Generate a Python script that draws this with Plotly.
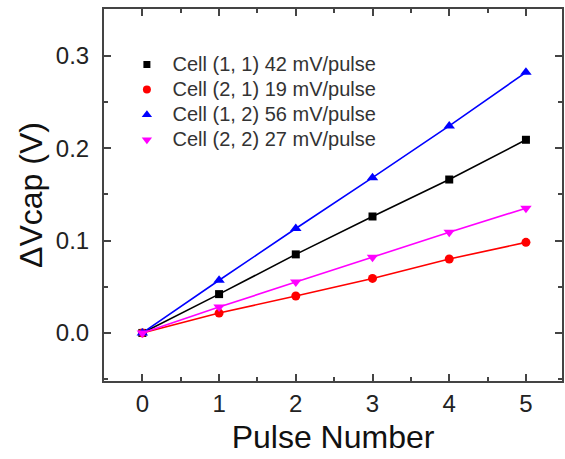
import plotly.graph_objects as go

pulses = [0, 1, 2, 3, 4, 5]
cell_11 = [0.0, 0.042, 0.085, 0.126, 0.166, 0.209]
cell_21 = [0.0, 0.0215, 0.040, 0.059, 0.080, 0.098]
cell_12 = [0.0, 0.057, 0.113, 0.168, 0.224, 0.282]
cell_22 = [0.0, 0.028, 0.055, 0.082, 0.109, 0.135]
names = ["Cell (1, 1) 42 mV/pulse", "Cell (2, 1) 19 mV/pulse",
         "Cell (1, 2) 56 mV/pulse", "Cell (2, 2) 27 mV/pulse"]

series = [cell_11, cell_21, cell_12, cell_22]
colors = ["#000000", "#ff0000", "#0000ff", "#ff00ff"]
symbols = ["square", "circle", "triangle-up", "triangle-down"]
sizes = [8, 9, 10, 10]

fig = go.Figure()
for ys, c, s, sz in zip(series, colors, symbols, sizes):
    fig.add_trace(go.Scatter(x=pulses, y=ys, mode="lines+markers",
                             line=dict(color=c, width=1.6),
                             marker=dict(color=c, symbol=s, size=sz),
                             showlegend=False))
for i, (n, c, s, sz) in enumerate(zip(names, colors, symbols, sizes)):
    fig.add_trace(go.Scatter(x=[None], y=[None], mode="markers",
                             name="<span style='font-size:20px'>\u00a0" + n + "</span>",
                             marker=dict(color=c, symbol=s, size=sz - 1),
                             legendgroup=str(i)))

axis_common = dict(showline=True, linecolor="#444444", linewidth=2, mirror="allticks",
                   ticks="inside", ticklen=7, tickwidth=1.5, tickcolor="#444444",
                   showgrid=False, zeroline=False,
                   tickfont=dict(family="Liberation Sans, Arial", size=24, color="#222222"))

fig.update_xaxes(range=[-0.5, 5.47], tickvals=[0, 1, 2, 3, 4, 5],
                 minor=dict(ticks="inside", ticklen=4, tickcolor="#444444", dtick=0.5, tick0=0),
                 title=dict(text="Pulse Number", standoff=10,
                            font=dict(family="Liberation Sans, Arial", size=32, color="#111111")),
                 **axis_common)
fig.update_yaxes(range=[-0.052, 0.3505], tickvals=[0.0, 0.1, 0.2, 0.3], tickformat=".1f",
                 ticklabelstandoff=8,
                 minor=dict(ticks="inside", ticklen=4, tickcolor="#444444", dtick=0.05, tick0=0),
                 title=dict(text="ΔVcap (V)", standoff=4,
                            font=dict(family="Liberation Sans, Arial", size=32, color="#111111")),
                 **axis_common)

fig.update_layout(width=565, height=459, margin=dict(l=104, r=1, t=9, b=78),
                  paper_bgcolor="white", plot_bgcolor="white",
                  legend=dict(x=0.05, y=0.898, xanchor="left", yanchor="top",
                              bgcolor="rgba(0,0,0,0)", tracegroupgap=0,
                              font=dict(family="Liberation Sans, Arial", size=17, color="#333333")))

fig.write_html("out.html")
